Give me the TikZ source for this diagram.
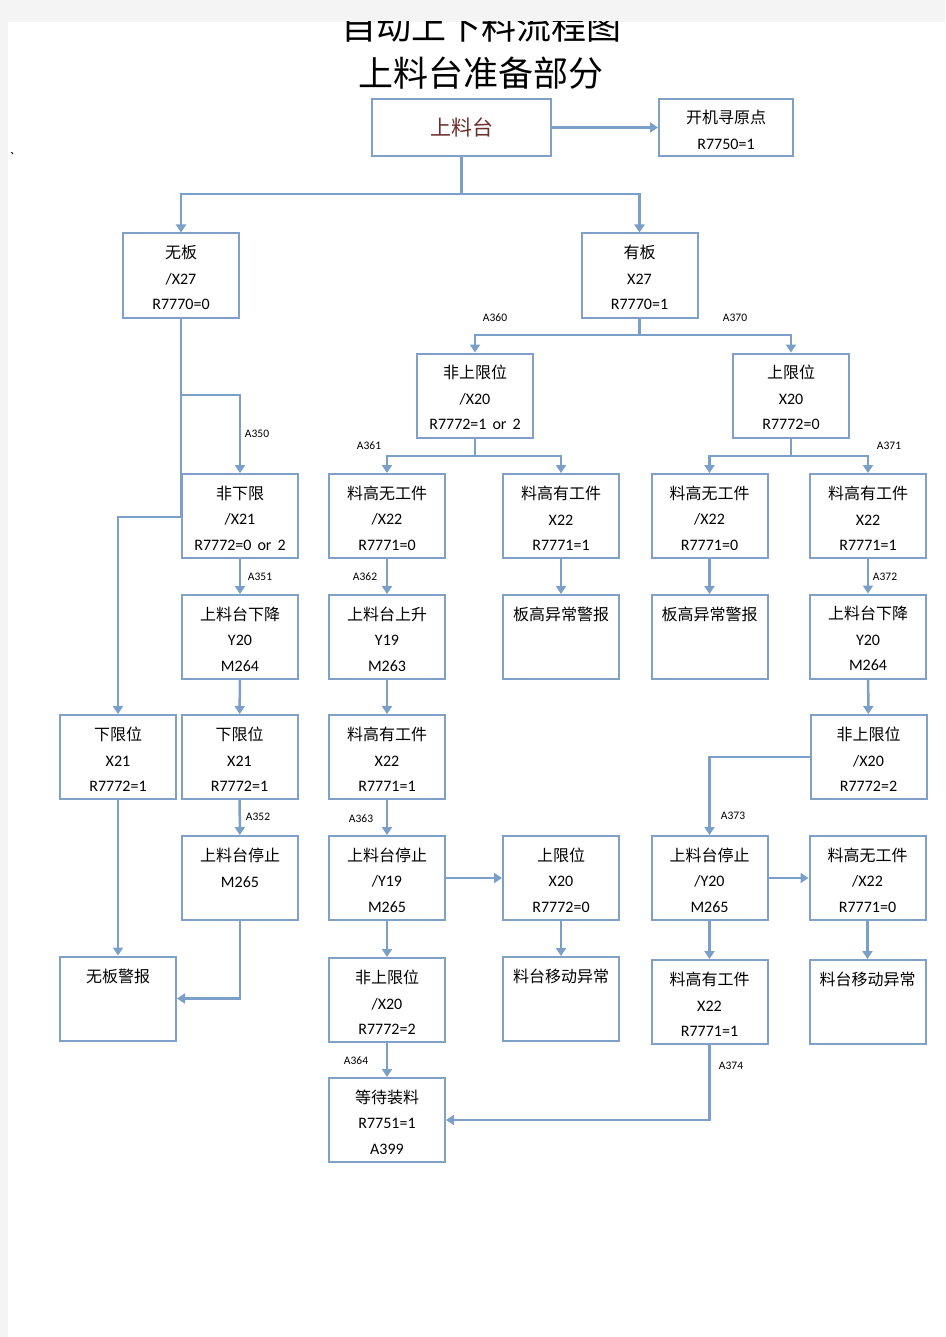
\documentclass[tikz,border=0pt]{standalone}
\usepackage{fontspec}
\setmainfont{Carlito}
\newfontfamily\cjk{Noto Sans CJK SC}
\newcommand{\zh}[1]{{\cjk\rule{0pt}{18pt}#1}}
\usetikzlibrary{arrows.meta}

\definecolor{linkblue}{RGB}{122,160,201}
\definecolor{boxblue}{RGB}{128,160,200}
\definecolor{pagegray}{RGB}{244,244,244}
\definecolor{redtext}{RGB}{110,45,45}

\tikzset{
    box/.style={draw=boxblue, line width=2pt, minimum width=116pt, minimum height=84pt,
        inner sep=0pt, align=center, font=\fontsize{16}{25.5}\selectfont},
    flow/.style={draw=linkblue, line width=2.5pt, ->},
    lbl/.style={font=\fontsize{11.5}{12}\selectfont, inner sep=0pt},
    ttl/.style={font=\cjk\fontsize{35}{40}\selectfont, inner sep=0pt}
}

\begin{document}
\begin{tikzpicture}[x=1pt, y=-1pt, >={Triangle[width=10pt,length=8pt]}]
    \useasboundingbox (0,0) rectangle (945,1337);
    \fill[pagegray] (0,0) rectangle (945,1337);
    \fill[white] (8,22) rectangle (945,1337);

    % titles
    \begin{scope}
        \clip (8,22) rectangle (945,1337);
        \node[ttl] (ttl1) at (481,26) {自动上下料流程图};
    \end{scope}
    \node[ttl] (ttl2) at (481,73) {上料台准备部分};
    \node[font=\fontsize{16}{16}\selectfont, inner sep=0pt] (tick) at (12,158) {\textasciigrave};

    % boxes
    \node[box, minimum width=179pt, minimum height=57pt, font=\cjk\fontsize{21}{24}\selectfont, text=redtext] (tai) at (461.5,127.5) {上料台};
    \node[box, minimum width=134pt, minimum height=57pt] (home) at (726,127.5) {\zh{开机寻原点}\\R7750=1};

    \node[box] (noboard) at (181,275.5) {\zh{无板}\\/X27\\R7770=0};
    \node[box] (board) at (639.5,275.5) {\zh{有板}\\X27\\R7770=1};

    \node[box] (notopA) at (475,395.5) {\zh{非上限位}\\/X20\\R7772=1\hspace{6pt}or\hspace{6pt}2};
    \node[box] (topA) at (791,395.5) {\zh{上限位}\\X20\\R7772=0};

    \node[box] (notbot) at (240,516) {\zh{非下限}\\/X21\\R7772=0\hspace{6pt}or\hspace{6pt}2};
    \node[box] (hino1) at (387,516) {\zh{料高无工件}\\/X22\\R7771=0};
    \node[box] (hiyes1) at (561,516) {\zh{料高有工件}\\X22\\R7771=1};
    \node[box] (hino2) at (709.5,516) {\zh{料高无工件}\\/X22\\R7771=0};
    \node[box] (hiyes2) at (868,516) {\zh{料高有工件}\\X22\\R7771=1};

    \node[box] (down1) at (240,637) {\zh{上料台下降}\\Y20\\M264};
    \node[box] (up1) at (387,637) {\zh{上料台上升}\\Y19\\M263};
    \node[box] (alarm1) at (561,637) {\zh{板高异常警报}\\\mbox{}\\\mbox{}};
    \node[box] (alarm2) at (709.5,637) {\zh{板高异常警报}\\\mbox{}\\\mbox{}};
    \node[box] (down2) at (868,636.5) {\zh{上料台下降}\\Y20\\M264};

    \node[box] (botL) at (118,757) {\zh{下限位}\\X21\\R7772=1};
    \node[box] (bot) at (239.5,757) {\zh{下限位}\\X21\\R7772=1};
    \node[box] (hiyes3) at (387,757) {\zh{料高有工件}\\X22\\R7771=1};
    \node[box] (notop2) at (868.5,757) {\zh{非上限位}\\/X20\\R7772=2};

    \node[box] (stop1) at (240,878) {\zh{上料台停止}\\M265\\\mbox{}};
    \node[box] (stop2) at (387,878) {\zh{上料台停止}\\/Y19\\M265};
    \node[box] (topB) at (561,878) {\zh{上限位}\\X20\\R7772=0};
    \node[box] (stop3) at (709.5,878) {\zh{上料台停止}\\/Y20\\M265};
    \node[box] (hino3) at (867.5,878) {\zh{料高无工件}\\/X22\\R7771=0};

    \node[box] (noalarm) at (118,998.5) {\zh{无板警报}\\\mbox{}\\\mbox{}};
    \node[box] (notop3) at (387,1000) {\zh{非上限位}\\/X20\\R7772=2};
    \node[box] (move1) at (561,999) {\zh{料台移动异常}\\\mbox{}\\\mbox{}};
    \node[box] (hiyes4) at (709.5,1002) {\zh{料高有工件}\\X22\\R7771=1};
    \node[box] (move2) at (867.5,1002) {\zh{料台移动异常}\\\mbox{}\\\mbox{}};

    \node[box] (wait) at (387,1120) {\zh{等待装料}\\R7751=1\\A399};

    % branch points
    \coordinate (s1) at (461.5,194);
    \coordinate (s2) at (639.5,335);
    \coordinate (s3) at (475,456);
    \coordinate (s4) at (791,456);
    \coordinate (s5) at (181,395);
    \coordinate (s6) at (181,517);

    % connectors
    \draw[flow] (tai) -- (home);
    \draw[flow] (tai) -- (s1) -| (noboard);
    \draw[flow] (s1) -| (board);
    \draw[flow] (board) -- (s2) -| (notopA);
    \draw[flow] (s2) -| (topA);
    \draw[flow] (notopA) -- (s3) -| (hino1);
    \draw[flow] (s3) -| (hiyes1);
    \draw[flow] (topA) -- (s4) -| (hino2);
    \draw[flow] (s4) -| (hiyes2);
    \draw[flow] (noboard) -- (s5) -| (notbot);
    \draw[flow] (s5) -- (s6) -| (botL);
    \draw[flow] (notbot) -- (down1);
    \draw[flow] (hino1) -- (up1);
    \draw[flow] (hiyes1) -- (alarm1);
    \draw[flow] (hino2) -- (alarm2);
    \draw[flow] (hiyes2) -- (down2);
    \draw[flow] (down1) -- (bot);
    \draw[flow] (up1) -- (hiyes3);
    \draw[flow] (down2) -- (notop2);
    \draw[flow] (botL) -- (noalarm);
    \draw[flow] (bot) -- (stop1);
    \draw[flow] (hiyes3) -- (stop2);
    \draw[flow] (notop2) -| (stop3);
    \draw[flow] (stop2) -- (topB);
    \draw[flow] (stop3) -- (hino3);
    \draw[flow] (stop1) |- (noalarm);
    \draw[flow] (stop2) -- (notop3);
    \draw[flow] (topB) -- (move1);
    \draw[flow] (stop3) -- (hiyes4);
    \draw[flow] (hino3) -- (move2);
    \draw[flow] (notop3) -- (wait);
    \draw[flow] (hiyes4) |- (wait);

    % step labels
    \node[lbl] (l360) at (495,318) {A360};
    \node[lbl] (l370) at (735,318) {A370};
    \node[lbl] (l350) at (257,434) {A350};
    \node[lbl] (l361) at (369,446) {A361};
    \node[lbl] (l371) at (889,446) {A371};
    \node[lbl] (l351) at (260,577) {A351};
    \node[lbl] (l362) at (365,577) {A362};
    \node[lbl] (l372) at (885,577) {A372};
    \node[lbl] (l352) at (258,817) {A352};
    \node[lbl] (l363) at (361,819) {A363};
    \node[lbl] (l373) at (733,816) {A373};
    \node[lbl] (l364) at (356,1061) {A364};
    \node[lbl] (l374) at (731,1066) {A374};
\end{tikzpicture}
\end{document}
